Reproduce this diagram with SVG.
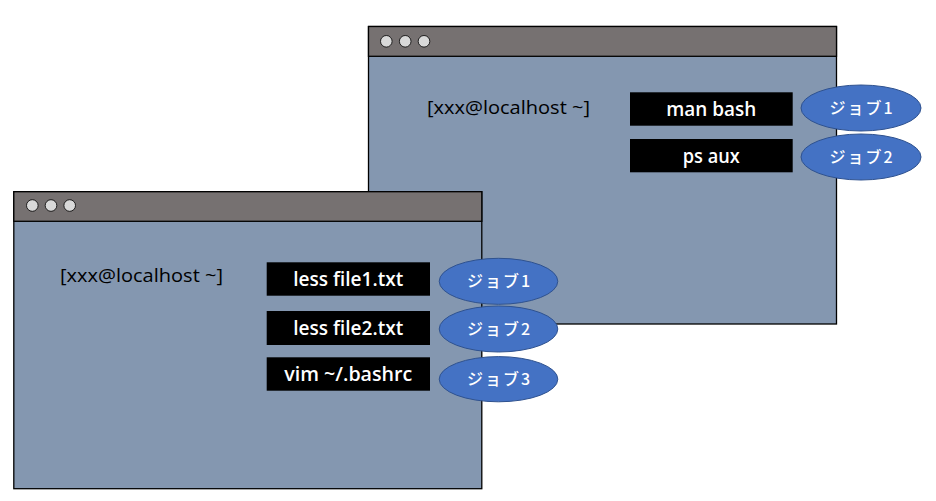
<svg xmlns="http://www.w3.org/2000/svg" width="936" height="501" viewBox="0 0 936 501">
<style>
.body{fill:#8497B0;stroke:#000;stroke-width:1.3}
.bar{fill:#767171;stroke:#000;stroke-width:1.3}
.dot{fill:#D9D9D9;stroke:#000;stroke-width:0.8}
.prompt{font-family:"Open Sans","Liberation Sans",sans-serif;font-size:18.5px;fill:#000}
.cmd{fill:#000}
.cmdt{font-family:"Open Sans","Liberation Sans",sans-serif;font-size:19px;font-weight:600;fill:#fff;text-anchor:middle}
.job{fill:#4472C4;stroke:#2F528F;stroke-width:1}
.jobt{font-family:"Noto Sans CJK JP","Liberation Sans",sans-serif;font-size:16px;font-weight:500;letter-spacing:2px;fill:#fff;text-anchor:middle}
</style>
<rect width="936" height="501" fill="#fff"/>
<g id="window-top">
<rect class="body" x="368.5" y="26.5" width="468" height="297.5"/>
<rect class="bar" x="368.5" y="26.5" width="468" height="29.8"/>
<circle class="dot" cx="386.3" cy="41.3" r="5.8"/>
<circle class="dot" cx="405.2" cy="41.3" r="5.8"/>
<circle class="dot" cx="424" cy="41.3" r="5.8"/>
<text class="prompt" x="427" y="114" textLength="163" lengthAdjust="spacingAndGlyphs">[xxx@localhost ~]</text>
</g>
<g id="window-bottom">
<rect class="body" x="13.8" y="191.7" width="468" height="297"/>
<rect class="bar" x="13.8" y="191.7" width="468" height="29.6"/>
<circle class="dot" cx="32.3" cy="205.5" r="5.8"/>
<circle class="dot" cx="51" cy="205.5" r="5.8"/>
<circle class="dot" cx="69.7" cy="205.5" r="5.8"/>
<text class="prompt" x="60" y="282" textLength="163" lengthAdjust="spacingAndGlyphs">[xxx@localhost ~]</text>
</g>
<g id="cmd-man-bash">
<rect class="cmd" x="630" y="92.3" width="162.7" height="33.4"/>
<text class="cmdt" x="711.3" y="116" textLength="90" lengthAdjust="spacingAndGlyphs">man bash</text>
</g>
<g id="cmd-ps-aux">
<rect class="cmd" x="630" y="139" width="162.7" height="33.3"/>
<text class="cmdt" x="711.3" y="162.5" textLength="57" lengthAdjust="spacingAndGlyphs">ps aux</text>
</g>
<g id="cmd-less1">
<rect class="cmd" x="266.7" y="262.3" width="163.3" height="33.4"/>
<text class="cmdt" x="348.3" y="286.3" textLength="110" lengthAdjust="spacingAndGlyphs">less file1.txt</text>
</g>
<g id="cmd-less2">
<rect class="cmd" x="266.7" y="311" width="163.3" height="34"/>
<text class="cmdt" x="348.3" y="335" textLength="110" lengthAdjust="spacingAndGlyphs">less file2.txt</text>
</g>
<g id="cmd-vim">
<rect class="cmd" x="266.7" y="357.3" width="163.3" height="33.4"/>
<text class="cmdt" x="348.3" y="381" textLength="128" lengthAdjust="spacingAndGlyphs">vim ~/.bashrc</text>
</g>
<g id="job-top-1">
<ellipse class="job" cx="861" cy="108" rx="60" ry="23"/>
<text class="jobt" x="862" y="113.5">ジョブ1</text>
</g>
<g id="job-top-2">
<ellipse class="job" cx="861" cy="157" rx="60" ry="23"/>
<text class="jobt" x="862" y="162.5">ジョブ2</text>
</g>
<g id="job-bottom-1">
<ellipse class="job" cx="498.5" cy="281.3" rx="59.3" ry="23"/>
<text class="jobt" x="499.5" y="286.8">ジョブ1</text>
</g>
<g id="job-bottom-2">
<ellipse class="job" cx="498.5" cy="329" rx="59.3" ry="23"/>
<text class="jobt" x="499.5" y="334.5">ジョブ2</text>
</g>
<g id="job-bottom-3">
<ellipse class="job" cx="498.5" cy="379.2" rx="59.3" ry="22.6"/>
<text class="jobt" x="499.5" y="384.7">ジョブ3</text>
</g>
<g id="connectors"/>
</svg>
